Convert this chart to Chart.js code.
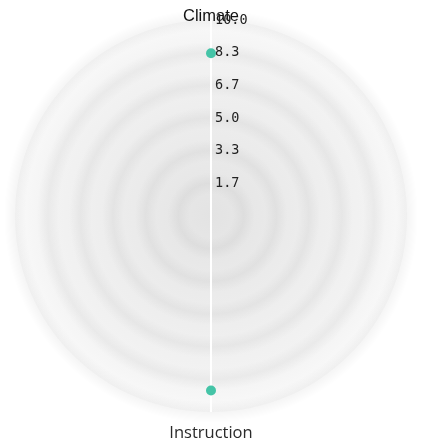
<!DOCTYPE html>
<html>
<head>
<meta charset="utf-8">
<script src="https://cdn.jsdelivr.net/npm/chart.js@4/dist/chart.umd.min.js"></script>
<style>
  html, body { margin: 0; padding: 0; background: #ffffff; }
  #wrap { width: 422px; height: 444px; position: relative; }
</style>
</head>
<body>
<div id="wrap"><canvas id="c"></canvas></div>
<script>
// ---- data ----
const categories = ['Climate', 'Instruction'];
const seriesValues = [8.3, 8.9];
const scaleMin = 0;
const scaleMax = 10;
const tickCount = 7; // 0, 1.7, 3.3, 5.0, 6.7, 8.3, 10.0

// ---- styles ----
const pointColor = '#45c4a7';
const tickFontSize = 13.5;

function ringColor(ctx) {
  const s = ctx.chart.scales.r;
  if (!s || !isFinite(s.xCenter) || !ctx.tick) return 'rgba(0,0,0,0.035)';
  const r = s.getDistanceFromCenterForValue(ctx.tick.value);
  const w = 11;
  const g = ctx.chart.ctx.createRadialGradient(s.xCenter, s.yCenter, Math.max(0, r - w), s.xCenter, s.yCenter, r + w);
  g.addColorStop(0, 'rgba(0,0,0,0)');
  g.addColorStop(0.5, 'rgba(0,0,0,0.04)');
  g.addColorStop(1, 'rgba(0,0,0,0)');
  return g;
}

const bgPlugin = {
  id: 'radialBg',
  beforeDraw(chart) {
    const s = chart.scales.r;
    const g = chart.ctx.createRadialGradient(s.xCenter, s.yCenter, 0, s.xCenter, s.yCenter, s.drawingArea);
    g.addColorStop(0, '#e3e3e3');
    g.addColorStop(0.4, '#ebebeb');
    g.addColorStop(0.8, '#f2f2f2');
    g.addColorStop(1, '#f9f9f9');
    s.options.backgroundColor = g;
  }
};

new Chart(document.getElementById('c'), {
  type: 'radar',
  data: {
    labels: categories,
    datasets: [{
      data: seriesValues,
      showLine: false,
      borderWidth: 0,
      fill: false,
      pointRadius: 5,
      pointHoverRadius: 5,
      pointBackgroundColor: pointColor,
      pointBorderWidth: 0
    }]
  },
  options: {
    responsive: true,
    maintainAspectRatio: false,
    animation: false,
    plugins: { legend: { display: false }, tooltip: { enabled: false } },
    scales: {
      r: {
        min: scaleMin,
        max: scaleMax,
        backgroundColor: '#eeeeee',
        angleLines: { display: true, color: '#ffffff', lineWidth: 2 },
        grid: { circular: true, color: ringColor, lineWidth: 22 },
        pointLabels: {
          display: true,
          padding: (ctx) => ctx.index === 0 ? -7 : 17,
          color: (ctx) => ctx.index === 0 ? '#111111' : '#2a2a2a',
          font: (ctx) => ctx.index === 0
            ? { family: 'Liberation Sans', size: 16.5, lineHeight: 22 / 16.5 }
            : { family: 'Open Sans', size: 16.5, lineHeight: 9 / 16.5 }
        },
        ticks: {
          count: tickCount,
          showLabelBackdrop: false,
          backdropPadding: -tickFontSize / 2,
          color: '#222222',
          font: { family: 'DejaVu Sans Mono', size: tickFontSize },
          callback: (v) => {
            const t = Number(v).toFixed(1);
            return ' '.repeat(t.length + 1) + t;
          }
        }
      }
    }
  },
  plugins: [bgPlugin]
});
</script>
</body>
</html>
